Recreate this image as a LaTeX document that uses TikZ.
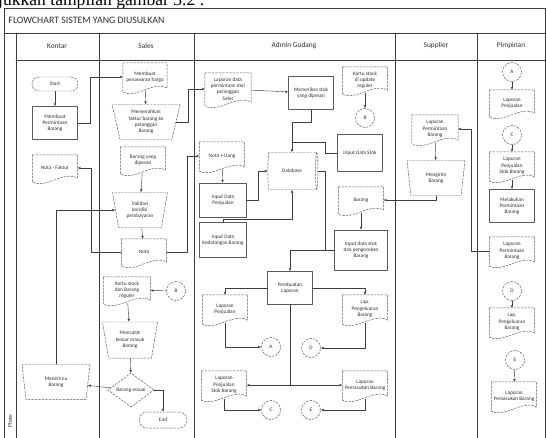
\documentclass[tikz,border=0pt]{standalone}
\usepackage{fontspec}
\setmainfont{Carlito}
\newfontfamily\kutipfont{Liberation Serif}
\usetikzlibrary{arrows.meta}
\usetikzlibrary{calc}
\usetikzlibrary{positioning}
\usetikzlibrary{shapes.geometric}
\definecolor{fc-garis}{HTML}{3C3C3C}
\definecolor{fc-bentuk}{HTML}{5A5A5A}
\definecolor{fc-teks}{HTML}{2E2E2E}

\begin{document}
\begin{tikzpicture}[x=0.5mm, y=-0.5mm, line cap=round, line join=round,
    lajur/.style={line width=0.8pt, color=fc-garis},
    garis/.style={line width=0.6pt, color=fc-garis},
    panah/.style={garis, -{Latex[length=4pt,width=3.5pt]}},
    bentuk/.style={draw=fc-bentuk, line width=0.7pt, densely dashed},
    isi/.style={font=\fontsize{7.5}{9}\selectfont, text=fc-teks, align=center, inner sep=1pt},
    kepala/.style={font=\fontsize{10.5}{12}\selectfont, text=fc-teks},
    proses/.style={isi, draw=fc-bentuk, line width=1.1pt, minimum width=22.5mm, minimum height=16.5mm},
    dokumen/.style={isi, minimum width=22.5mm, minimum height=13mm,
      append after command={\pgfextra{%
        \draw[bentuk]
          (\tikzlastnode.north west) -- (\tikzlastnode.north east)
          -- ($(\tikzlastnode.south east)+(0,-3)$)
          .. controls ($(\tikzlastnode.south)+(9,-11)$) and ($(\tikzlastnode.south)+(-9,8)$)
          .. ($(\tikzlastnode.south west)+(0,1)$) -- cycle;}}},
    manual/.style={isi, bentuk, trapezium, shape border rotate=180,
      trapezium left angle=72, trapezium right angle=72, trapezium stretches body,
      minimum height=17.5mm},
    penghubung/.style={isi, bentuk, circle, minimum size=9.5mm},
    terminal/.style={isi, bentuk, rounded corners=3.5mm, minimum width=23mm, minimum height=7mm},
    keputusan/.style={isi, bentuk, diamond, aspect=1.35, inner sep=0pt, minimum width=23mm, minimum height=17mm},
    basisdata/.style={isi, bentuk, cylinder, shape aspect=0.45, minimum width=18.5mm, minimum height=25mm}]

    % frame
    \useasboundingbox (0,0) rectangle (546,438);
    \clip (0,0) rectangle (546,438);
    \fill[white] (0,0) rectangle (546,438);

    \node[anchor=base west, inner sep=0pt, text=black, font=\kutipfont\fontsize{25}{25}\selectfont] (kutipan) at (-2,6) {jukkan tampilan gambar 3.2 :};

    \draw[lajur] (4,8) rectangle (545.5,440);
    \draw[lajur] (4,33) -- (546,33);
    \draw[lajur] (16,60) -- (546,60);
    \foreach \x in {16,99,194,395,477}
        \draw[lajur] (\x,33) -- (\x,440);

    \node[anchor=west, text=fc-teks, font=\fontsize{14}{14}\selectfont] (judul) at (6,20) {FLOWCHART SISTEM YANG DIUSULKAN};
    \node[rotate=90, text=fc-teks, font=\fontsize{8}{8}\selectfont] (fase) at (10,421) {Phase};

    % lanes
    \node[kepala] (hKontar) at (57,46) {Kontar};
    \node[kepala] (hSales) at (146,46) {Sales};
    \node[kepala] (hAdmin) at (294,46) {Admin Gudang};
    \node[kepala] (hSupplier) at (436,46) {Supplier};
    \node[kepala] (hPimpinan) at (511,46) {Pimpinan};

    % Kontar
    \node[terminal] (mulai) at (55,84) {Start};
    \node[proses] (buat) at (55,123) {Membuat\\Permintaan\\Barang};
    \node[dokumen] (notafak) at (55,168) {Nota - Faktur};
    \node[manual, minimum width=34mm] (terima) at (56,382) {Menerima\\Barang};

    % Sales
    \node[dokumen, minimum width=22mm, minimum height=14mm] (tawar) at (145,77) {Membuat\\penawaran harga};
    \node[manual, minimum width=34mm] (serah) at (146,122) {Menyerahkan\\faktur barang ke\\pelanggan\\Barang};
    \node[dokumen] (dipesan) at (143,160) {Barang yang\\dipesan};
    \node[manual, minimum width=27.5mm] (valid) at (140,210) {Validasi\\kondisi\\pembayaran};
    \node[dokumen] (nota) at (144,252) {Nota};
    \node[dokumen, minimum width=23.5mm] (kartus) at (127,290) {Kartu stock\\dan Barang\\reguler};
    \node[penghubung] (conB) at (176,291) {B};
    \node[manual, minimum width=27.5mm, minimum height=18mm] (catat) at (130,340) {Mencatat\\keluar masuk\\Barang};
    \node[keputusan] (cek) at (131,390) {Barang sesuai};
    \node[terminal, minimum width=23.5mm, minimum height=8mm] (selesai) at (163,420) {End};

    % Admin Gudang
    \node[dokumen, minimum width=23mm, minimum height=16mm] (lapminta) at (228,89) {Laporan data\\permintaan dari\\pelanggan\\Sales};
    \node[proses] (periksa) at (311,93) {Memeriksa stok\\yang dipesan};
    \node[dokumen] (kartua) at (365,80) {Kartu stock\\di update\\reguler};
    \node[penghubung] (conB2) at (365,118) {B};
    \node[dokumen, minimum height=14mm] (notauang) at (222,156) {Nota + Uang};
    \node[basisdata] (db) at (292,171) {Database};
    \node[proses, minimum height=18.5mm] (instok) at (360,153) {Input Data Stok};
    \node[proses, minimum width=23.5mm, minimum height=17mm] (injual) at (223,200) {Input Data\\Penjualan};
    \node[dokumen] (barang) at (361,200) {Barang};
    \node[proses, minimum width=23.5mm, minimum height=17.5mm] (indatang) at (223,240) {Input Data\\Kedatangan Barang};
    \node[proses, minimum width=26.5mm, minimum height=20mm] (incek) at (361,250) {Input data stok\\dan pengecekan\\Barang};
    \node[proses] (laporan) at (290,288) {Pembuatan\\Laporan};
    \node[dokumen, minimum height=14mm] (lapjual) at (225,309) {Laporan\\Penjualan};
    \node[dokumen, minimum height=14mm] (lapkeluar) at (365,309) {Lap.\\Pengeluaran\\Barang};
    \node[penghubung] (conA) at (271,347) {A};
    \node[penghubung] (conD) at (311,348) {D};
    \node[dokumen, minimum height=14mm] (lapstok) at (224,385) {Laporan\\Penjualan\\Stok Barang};
    \node[dokumen, minimum height=14mm] (lapmasuk) at (365,385) {Laporan\\Pemasukan Barang};
    \node[penghubung] (conC) at (271,410) {C};
    \node[penghubung] (conE) at (311,410) {E};

    % Supplier
    \node[dokumen, minimum width=23mm, minimum height=14mm] (lapminsup) at (435,129) {Laporan\\Permintaan\\Barang};
    \node[manual, minimum width=29mm] (kirim) at (436,178) {Mengirim\\Barang};

    % Pimpinan
    \node[penghubung] (conA2) at (512,72) {A};
    \node[dokumen] (pjual) at (512,103) {Laporan\\Penjualan};
    \node[penghubung] (conC2) at (512,135) {C};
    \node[dokumen, minimum height=14mm] (pstok) at (512,166) {Laporan\\Penjualan\\Stok Barang};
    \node[proses] (pminta) at (512,206) {Melakukan\\Permintaan\\Barang};
    \node[dokumen, minimum height=14mm] (plapminta) at (512,251) {Laporan\\Permintaan\\Barang};
    \node[penghubung] (conD2) at (512,291) {D};
    \node[dokumen, minimum height=14mm] (pkeluar) at (512,322) {Lap.\\Pengeluaran\\Barang};
    \node[penghubung] (conE2) at (515,360) {E};
    \node[dokumen, minimum height=14mm] (pmasuk) at (514,396) {Laporan\\Pemasukan Barang};

    % junctions
    \coordinate (jStok) at (325,142);
    \coordinate (jDb) at (325,250);

    % connectors Kontar / Sales
    \draw[panah] (mulai) -- (buat);
    \draw[panah] (buat.east) -- ++(12,0) |- (tawar.west);
    \draw[panah] (tawar) -- (serah);
    \draw[panah] (serah.east) -- ++(12,0) |- (lapminta.west);
    \draw[panah] (dipesan) -- (valid);
    \draw[panah] (valid) -- (nota);
    \draw[panah] (nota.west) -- ++(-30,0) |- (notafak.east);
    \draw[panah] (nota.east) -- ++(21,0) |- (notauang.west);
    \draw[panah] (terima.north) |- (valid.west);
    \draw[panah] (conB) -- (kartus);
    \draw[panah] (kartus) -- (catat);
    \draw[panah] (catat) -- (cek);
    \draw[panah] (cek) -- (terima);
    \draw[panah] (cek.east) -| (selesai.north);

    % connectors Admin Gudang
    \draw[panah] (lapminta) -- (periksa);
    \draw[panah] (kartua) -- (conB2);
    \draw[panah] (periksa.south) -- ++(0,12) -| (db.north);
    \draw[garis] (instok.west) -| (jStok) -- (jStok -| db.north);
    \draw[panah] (notauang) -- (injual);
    \draw[panah] (injual.east) -- ++(11,0) |- (db.west);
    \draw[panah] (indatang.north) -- ++(0,-3) -| (db.south);
    \draw[garis] (db.east) -| (jDb);
    \draw[panah] (barang) -- (incek);
    \draw[panah] (incek.west) -| (laporan.north);
    \draw[panah] (laporan.west) -| (lapjual.north);
    \draw[panah] (laporan.east) -| (lapkeluar.north);
    \draw[panah] (laporan.south) |- (lapstok.east);
    \draw[panah] (laporan.south) |- (lapmasuk.west);
    \draw[panah] (lapjual.south) |- (conA.west);
    \draw[panah] (lapkeluar.south) |- (conD.east);
    \draw[panah] (lapstok.south) |- (conC.west);
    \draw[panah] (lapmasuk.south) |- (conE.east);

    % connectors Supplier / Pimpinan
    \draw[panah] (lapminsup) -- (kirim);
    \draw[panah] (kirim.south) |- (barang.east);
    \draw[panah] (plapminta.west) -- ++(-18,0) |- (lapminsup.east);
    \draw[panah] (conA2) -- (pjual);
    \draw[panah] (conC2) -- (pstok);
    \draw[panah] (pstok) -- (pminta);
    \draw[panah] (conD2) -- (pkeluar);
    \draw[panah] (conE2) -- (pmasuk);

\end{tikzpicture}
\end{document}
